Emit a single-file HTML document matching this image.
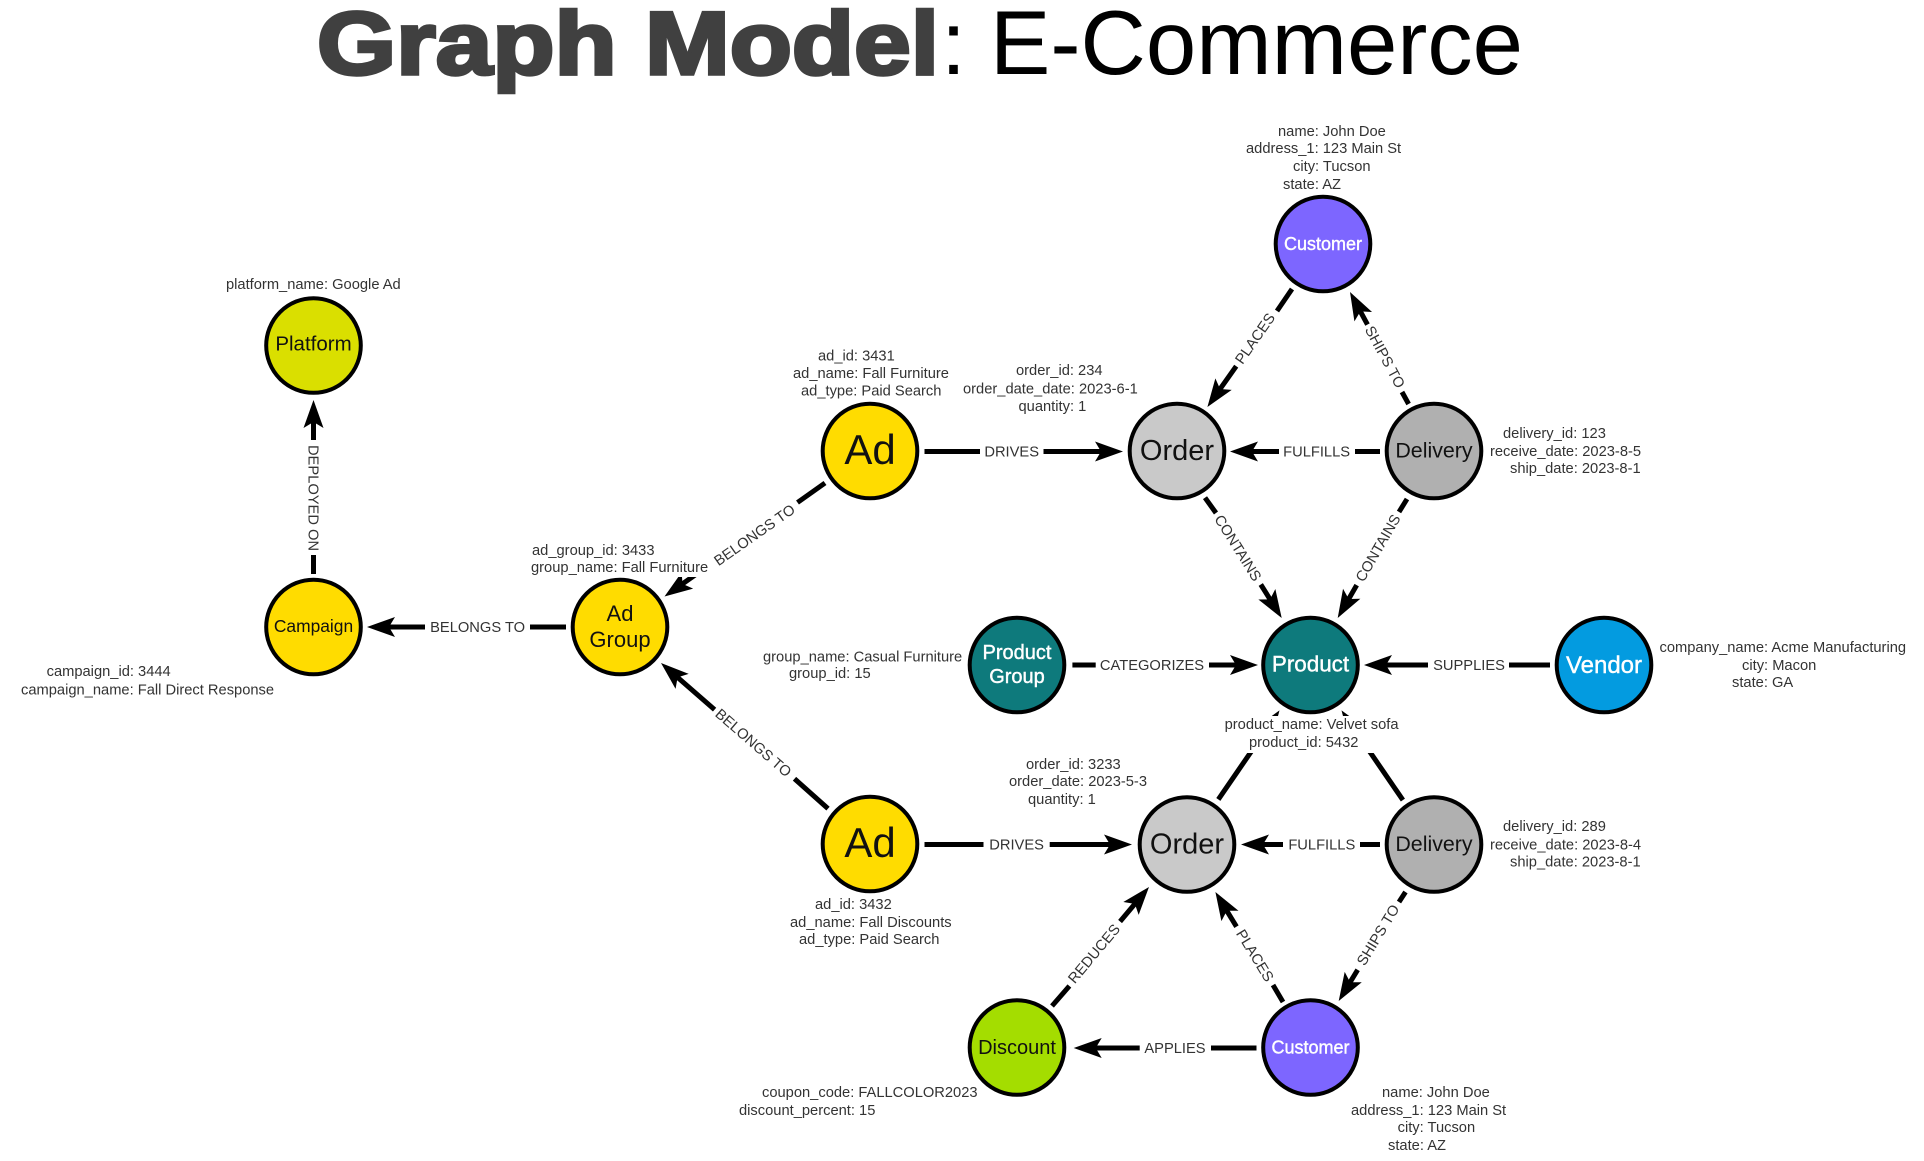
<!DOCTYPE html>
<html lang="en">
<head>
<meta charset="utf-8">
<title>Graph Model: E-Commerce</title>
<style>
html,body{margin:0;padding:0;background:#fff;width:1924px;height:1161px;overflow:hidden}
svg{display:block}
text{font-family:"Liberation Sans",Arial,sans-serif}
.a{font-size:14.7px;fill:#333}
.e{font-size:14.7px;fill:#333;text-anchor:middle}
.n{text-anchor:middle;fill:#111}
.w{text-anchor:middle;fill:#fff;stroke:#fff;stroke-width:.4px}
.c{stroke:#000;stroke-width:4}
.l{stroke:#000;stroke-width:5;fill:none}
</style>
</head>
<body>
<svg width="1924" height="1161" viewBox="0 0 1924 1161" xmlns="http://www.w3.org/2000/svg">
<defs><path id="h" d="M0,0L-28,-10L-22,0L-28,10Z" fill="#000" stroke="none"/></defs>

<!-- Title -->
<text x="317" y="74" font-size="89" font-weight="700" fill="#404040" stroke="#404040" stroke-width="3.5" textLength="622" lengthAdjust="spacingAndGlyphs">Graph Model</text>
<text x="941" y="74" font-size="90" fill="#000">:</text>
<text x="990" y="74" font-size="90.5" fill="#000">E-Commerce</text>

<!-- Plain edge segments -->
<g class="l">
<line x1="313.5" y1="555" x2="313.5" y2="574"/>
<line x1="530" y1="627" x2="566" y2="627"/>
<line x1="825" y1="483" x2="797.5" y2="502.5"/>
<line x1="828" y1="808.6" x2="794.5" y2="778.7"/>
<line x1="924.5" y1="451.5" x2="980" y2="451.5"/>
<line x1="1355" y1="451.5" x2="1380" y2="451.5"/>
<line x1="1292" y1="289" x2="1277" y2="311"/>
<line x1="1408.6" y1="404" x2="1402" y2="392"/>
<line x1="1205" y1="497.7" x2="1216" y2="513"/>
<line x1="1407" y1="499" x2="1399" y2="512"/>
<line x1="1072.4" y1="665" x2="1095.7" y2="665"/>
<line x1="1509" y1="665" x2="1550" y2="665"/>
<line x1="924.5" y1="844.5" x2="983.5" y2="844.5"/>
<line x1="1360" y1="844.5" x2="1380" y2="844.5"/>
<line x1="1052" y1="1006" x2="1069.4" y2="986"/>
<line x1="1283" y1="1002" x2="1273" y2="985"/>
<line x1="1405.5" y1="892" x2="1399" y2="902"/>
<line x1="1211" y1="1048" x2="1256.5" y2="1048"/>
</g>

<!-- Arrow edges -->
<g class="l">
<g transform="translate(313.5,400) rotate(-90)"><line x1="-40" x2="-21"/><use href="#h"/></g>
<g transform="translate(367,627) rotate(180)"><line x1="-58" x2="-21"/><use href="#h"/></g>
<g transform="translate(664.5,596.5) rotate(144.9)"><line x1="-52" x2="-21"/><use href="#h"/></g>
<g transform="translate(661,663) rotate(-139)"><line x1="-71" x2="-21"/><use href="#h"/></g>
<g transform="translate(1123,451.5)"><line x1="-79.5" x2="-21"/><use href="#h"/></g>
<g transform="translate(1230,451.5) rotate(180)"><line x1="-49" x2="-21"/><use href="#h"/></g>
<g transform="translate(1207.4,407) rotate(125.2)"><line x1="-50" x2="-21"/><use href="#h"/></g>
<g transform="translate(1350,292) rotate(-118.2)"><line x1="-37" x2="-21"/><use href="#h"/></g>
<g transform="translate(1281.7,618) rotate(58)"><line x1="-39.5" x2="-21"/><use href="#h"/></g>
<g transform="translate(1337.7,618) rotate(120)"><line x1="-38" x2="-21"/><use href="#h"/></g>
<g transform="translate(1258,665)"><line x1="-49" x2="-21"/><use href="#h"/></g>
<g transform="translate(1364,665) rotate(180)"><line x1="-64" x2="-21"/><use href="#h"/></g>
<g transform="translate(1279.5,710.4) rotate(-55.5)"><line x1="-108" x2="-21"/><use href="#h"/></g>
<g transform="translate(1341.5,710.4) rotate(-124.4)"><line x1="-108.7" x2="-21"/><use href="#h"/></g>
<g transform="translate(1132,844.5)"><line x1="-82.3" x2="-21"/><use href="#h"/></g>
<g transform="translate(1241,844.5) rotate(180)"><line x1="-42" x2="-21"/><use href="#h"/></g>
<g transform="translate(1149,887) rotate(-50)"><line x1="-45" x2="-21"/><use href="#h"/></g>
<g transform="translate(1215.4,892) rotate(-121.3)"><line x1="-40.6" x2="-21"/><use href="#h"/></g>
<g transform="translate(1338.7,1001) rotate(121.3)"><line x1="-36.5" x2="-21"/><use href="#h"/></g>
<g transform="translate(1073.7,1048) rotate(180)"><line x1="-66" x2="-21"/><use href="#h"/></g>
</g>

<!-- White boxes behind attribute text -->
<rect x="1222" y="716" width="178" height="37" fill="#fff"/>
<rect x="531" y="558" width="178" height="19" fill="#fff"/>

<!-- Edge labels -->
<text class="e" transform="translate(313.5,498) rotate(90)" y="5">DEPLOYED ON</text>
<text class="e" x="477.6" y="632">BELONGS TO</text>
<text class="e" transform="translate(754.5,535) rotate(-35.1)" y="5">BELONGS TO</text>
<text class="e" transform="translate(753.4,742.8) rotate(41)" y="5">BELONGS TO</text>
<text class="e" x="1011.7" y="456.5">DRIVES</text>
<text class="e" x="1316.6" y="456.5">FULFILLS</text>
<text class="e" transform="translate(1255,338.5) rotate(-55)" y="5">PLACES</text>
<text class="e" transform="translate(1385,357) rotate(61.8)" y="5">SHIPS TO</text>
<text class="e" transform="translate(1238,548) rotate(58)" y="5">CONTAINS</text>
<text class="e" transform="translate(1378,548) rotate(-60)" y="5">CONTAINS</text>
<text class="e" x="1152" y="670">CATEGORIZES</text>
<text class="e" x="1469" y="670">SUPPLIES</text>
<text class="e" x="1016.6" y="849.5">DRIVES</text>
<text class="e" x="1321.8" y="849.5">FULFILLS</text>
<text class="e" transform="translate(1094,953.7) rotate(-50)" y="5">REDUCES</text>
<text class="e" transform="translate(1255,955.5) rotate(58.7)" y="5">PLACES</text>
<text class="e" transform="translate(1378,935) rotate(-58.7)" y="5">SHIPS TO</text>
<text class="e" x="1175" y="1053">APPLIES</text>

<!-- Nodes -->
<g class="c">
<circle cx="313.5" cy="345.5" r="47.3" fill="#DADF00"/>
<circle cx="313.5" cy="627" r="47.3" fill="#FFDC00"/>
<circle cx="620" cy="627" r="47.3" fill="#FFDC00"/>
<circle cx="870" cy="451" r="47.3" fill="#FFDC00"/>
<circle cx="870" cy="844" r="47.3" fill="#FFDC00"/>
<circle cx="1177" cy="451" r="47.3" fill="#C9C9C9"/>
<circle cx="1434" cy="451" r="47.3" fill="#B0B0B0"/>
<circle cx="1323" cy="244" r="47.3" fill="#7D66FF"/>
<circle cx="1017" cy="665" r="47.3" fill="#0E7A7C"/>
<circle cx="1310.5" cy="665" r="47.3" fill="#0E7A7C"/>
<circle cx="1604" cy="665" r="47.3" fill="#039BE0"/>
<circle cx="1187" cy="844.5" r="47.3" fill="#C9C9C9"/>
<circle cx="1434" cy="844.5" r="47.3" fill="#B0B0B0"/>
<circle cx="1017" cy="1047.5" r="47.3" fill="#A4DD00"/>
<circle cx="1310.5" cy="1047.5" r="47.3" fill="#7D66FF"/>
</g>

<!-- Node labels -->
<text class="n" x="313.5" y="350.5" font-size="20.5">Platform</text>
<text class="n" x="313.5" y="632" font-size="17.4">Campaign</text>
<text class="n" x="620" y="621" font-size="22">Ad</text>
<text class="n" x="620" y="647" font-size="22">Group</text>
<text class="n" x="870" y="464" font-size="42">Ad</text>
<text class="n" x="870" y="857" font-size="42">Ad</text>
<text class="n" x="1177" y="460" font-size="29">Order</text>
<text class="n" x="1434" y="457.5" font-size="21.4">Delivery</text>
<text class="w" x="1323" y="250" font-size="18">Customer</text>
<text class="w" x="1017" y="659" font-size="20">Product</text>
<text class="w" x="1017" y="683" font-size="20">Group</text>
<text class="w" x="1310.5" y="671.5" font-size="22.4">Product</text>
<text class="w" x="1604" y="673" font-size="24">Vendor</text>
<text class="n" x="1187" y="853.5" font-size="29">Order</text>
<text class="n" x="1434" y="851" font-size="21.4">Delivery</text>
<text class="n" x="1017" y="1054" font-size="20">Discount</text>
<text class="w" x="1310.5" y="1053.5" font-size="18">Customer</text>

<!-- Attribute text -->
<text class="a" x="226" y="289">platform_name: Google Ad</text>
<text class="a" x="818" y="360.5">ad_id: 3431</text>
<text class="a" x="793" y="378">ad_name: Fall Furniture</text>
<text class="a" x="801" y="395.7">ad_type: Paid Search</text>
<text class="a" x="532" y="555">ad_group_id: 3433</text>
<text class="a" x="531" y="572">group_name: Fall Furniture</text>
<text class="a" x="1278" y="136">name: John Doe</text>
<text class="a" x="1246" y="153">address_1: 123 Main St</text>
<text class="a" x="1293" y="171">city: Tucson</text>
<text class="a" x="1283" y="189">state: AZ</text>
<text class="a" x="1016" y="375">order_id: 234</text>
<text class="a" x="963" y="393.5">order_date_date: 2023-6-1</text>
<text class="a" x="1018.5" y="411">quantity: 1</text>
<text class="a" x="1503" y="438">delivery_id: 123</text>
<text class="a" x="1490" y="456">receive_date: 2023-8-5</text>
<text class="a" x="1510" y="473">ship_date: 2023-8-1</text>
<text class="a" x="46.6" y="676">campaign_id: 3444</text>
<text class="a" x="21" y="694.5">campaign_name: Fall Direct Response</text>
<text class="a" x="763" y="661.6">group_name: Casual Furniture</text>
<text class="a" x="789" y="678">group_id: 15</text>
<text class="a" x="815" y="909">ad_id: 3432</text>
<text class="a" x="790" y="927">ad_name: Fall Discounts</text>
<text class="a" x="799" y="944">ad_type: Paid Search</text>
<text class="a" x="762" y="1097">coupon_code: FALLCOLOR2023</text>
<text class="a" x="739" y="1115">discount_percent: 15</text>
<text class="a" x="1659.5" y="652">company_name: Acme Manufacturing</text>
<text class="a" x="1742" y="670">city: Macon</text>
<text class="a" x="1732" y="687">state: GA</text>
<text class="a" x="1224.6" y="729">product_name: Velvet sofa</text>
<text class="a" x="1249" y="747">product_id: 5432</text>
<text class="a" x="1026" y="769">order_id: 3233</text>
<text class="a" x="1009" y="786">order_date: 2023-5-3</text>
<text class="a" x="1028" y="804">quantity: 1</text>
<text class="a" x="1503" y="831">delivery_id: 289</text>
<text class="a" x="1490" y="849.5">receive_date: 2023-8-4</text>
<text class="a" x="1510" y="866.5">ship_date: 2023-8-1</text>
<text class="a" x="1382" y="1097">name: John Doe</text>
<text class="a" x="1351" y="1115">address_1: 123 Main St</text>
<text class="a" x="1397.6" y="1132">city: Tucson</text>
<text class="a" x="1388" y="1150">state: AZ</text>
</svg>
</body>
</html>
